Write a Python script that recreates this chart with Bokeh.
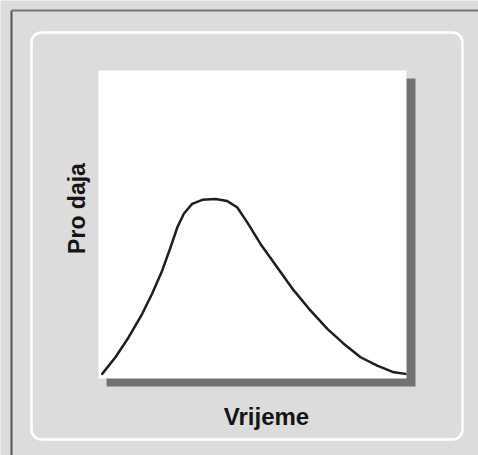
from bokeh.plotting import figure
from bokeh.models import Range1d
from bokeh.core.properties import value
from bokeh.embed import file_html
from bokeh.resources import INLINE
import math

# --- data: sales curve over time (time 0..10, sales 0..10) ---
vrijeme = [0.12, 0.55, 0.98, 1.42, 1.74, 2.07, 2.34, 2.56, 2.77, 3.04, 3.37, 3.80,
           4.18, 4.50, 4.83, 5.26, 5.80, 6.34, 6.88, 7.43, 7.96, 8.51, 9.05, 9.59, 9.97]
prodaja = [0.15, 0.69, 1.34, 2.10, 2.75, 3.51, 4.26, 4.91, 5.35, 5.67, 5.80, 5.83,
           5.76, 5.56, 5.07, 4.37, 3.61, 2.86, 2.21, 1.61, 1.13, 0.69, 0.42, 0.20, 0.15]
x_label = "Vrijeme"
y_label = "Pro daja"

# --- layout (page pixels) ---
W, H = 478, 455
OFF = 0
PX0, PX1 = 98, 406      # plot box left/right in page px -> data 0..10
PY0, PY1 = 378, 70      # plot box bottom/top in page px -> data 0..10
SX = (PX1 - PX0) / 10.0
SY = (PY0 - PY1) / 10.0


def X(px):
    return (px - PX0) / SX


def Y(py):
    return (PY0 - py) / SY


BG = "#dcdcdc"
p = figure(width=W, height=H, output_backend="svg", toolbar_location=None,
           x_range=Range1d(X(OFF), X(OFF + W)), y_range=Range1d(Y(OFF + H), Y(OFF)),
           min_border=0, x_axis_type=None, y_axis_type=None)
p.grid.visible = False
p.outline_line_color = None
p.background_fill_color = BG
p.border_fill_color = BG

# outer frame lines
p.line([X(11), X(11)], [Y(10), Y(470)], line_color="#555555", line_width=2)
p.line([X(11), X(490)], [Y(10), Y(10)], line_color="#777777", line_width=2)

# inner rounded white outline
p.quad(left=X(31), right=X(462), top=Y(32), bottom=Y(439),
       fill_color=None, line_color="white", line_width=2.5, border_radius=10)

# shadow and white plot box
p.quad(left=X(106), right=X(415), top=Y(78), bottom=Y(386),
       fill_color="#727272", line_color=None)
p.quad(left=X(PX0), right=X(PX1), top=Y(PY1), bottom=Y(PY0),
       fill_color="white", line_color=None)

# curve
p.line(vrijeme, prodaja, line_color="#1e1e1e", line_width=2.5,
       line_join="round", line_cap="round")

# labels
p.text(x=[X(266)], y=[Y(416)], text=[x_label], text_font=value("Liberation Sans"),
       text_font_style="bold", text_font_size="24px", text_color="#151515",
       text_align="center", text_baseline="alphabetic")
p.text(x=[X(76)], y=[Y(208)], text=[y_label], text_font=value("Liberation Sans"),
       text_font_style="bold", text_font_size="23px", text_color="#151515",
       text_align="center", text_baseline="middle", angle=math.pi / 2)

open("out.html", "w").write(file_html(p, INLINE))
